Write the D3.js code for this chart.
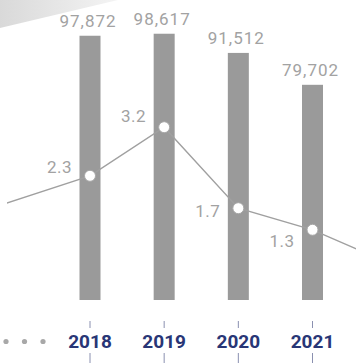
<!DOCTYPE html>
<html>
<head>
<meta charset="utf-8">
<script src="https://cdn.jsdelivr.net/npm/d3@7"></script>
<style>
  html, body { margin: 0; padding: 0; background: #fff; }
  svg { display: block; }
  text { font-family: Roboto, "Noto Sans", sans-serif; }
</style>
</head>
<body>
<svg id="chart" width="356" height="363"></svg>
<script>
// Annual totals (bars) and rate (line)
const years = [2018, 2019, 2020, 2021];
const totals = [97872, 98617, 91512, 79702];
const rates = [2.3, 3.2, 1.7, 1.3];
// Neighbouring years the line runs in from and out to
const leadYears = [2016, 2022];
const leadRates = [1.4, 0.7];
const totalLabels = ["97,872", "98,617", "91,512", "79,702"];
const rateLabels = ["2.3", "3.2", "1.7", "1.3"];

const W = 356, H = 363;
const svg = d3.select("#chart");

const x = d3.scaleLinear().domain([2018, 2021]).range([90, 312.5]);
const yBar = d3.scaleLinear().domain([0, 100000]).range([300, 30]);
const yRate = d3.scaleLinear().domain([0, 5]).range([300, 30]);
const barW = 21;

// Soft grey wedge in the top-left corner
const defs = svg.append("defs");
const grad = defs.append("linearGradient").attr("id", "wedge")
  .attr("x1", "0%").attr("y1", "0%").attr("x2", "100%").attr("y2", "0%");
grad.append("stop").attr("offset", "0%").attr("stop-color", "#d9d9d9");
grad.append("stop").attr("offset", "100%").attr("stop-color", "#f4f4f4");
svg.append("path").attr("d", "M0,0 L118,0 L0,28 Z").attr("fill", "url(#wedge)");

defs.append("clipPath").attr("id", "plotClip")
  .append("rect").attr("x", 7).attr("y", 0).attr("width", W - 7).attr("height", H);

// Bars
svg.append("g").selectAll("rect").data(years).join("rect")
  .attr("x", (d) => x(d) - barW / 2)
  .attr("y", (d, i) => yBar(totals[i]))
  .attr("width", barW)
  .attr("height", (d, i) => yBar(0) - yBar(totals[i]))
  .attr("fill", "#9a9a9a");

// Bar value labels
svg.append("g").selectAll("text").data(years).join("text")
  .attr("x", (d) => x(d) - 2)
  .attr("y", (d, i) => yBar(totals[i]) - 9)
  .attr("text-anchor", "middle")
  .attr("font-size", 17)
  .attr("letter-spacing", 1)
  .attr("fill", "#a2a2a2")
  .text((d, i) => totalLabels[i]);

// Rate line
const linePts = [
  [leadYears[0], leadRates[0]],
  ...years.map((d, i) => [d, rates[i]]),
  [leadYears[1], leadRates[1]]
];
svg.append("path")
  .datum(linePts)
  .attr("clip-path", "url(#plotClip)")
  .attr("fill", "none")
  .attr("stroke", "#a0a0a0")
  .attr("stroke-width", 1.4)
  .attr("d", d3.line().x((d) => x(d[0])).y((d) => yRate(d[1])));

svg.append("g").selectAll("circle").data(years).join("circle")
  .attr("cx", (d) => x(d))
  .attr("cy", (d, i) => yRate(rates[i]))
  .attr("r", 5.5)
  .attr("fill", "#fff")
  .attr("stroke", "#a8a8a8")
  .attr("stroke-width", 1);

// Rate labels sit to the left of each point
const rateLabelDy = [-3, -5, 9, 17];
svg.append("g").selectAll("text").data(years).join("text")
  .attr("x", (d) => x(d) - 18)
  .attr("y", (d, i) => yRate(rates[i]) + rateLabelDy[i])
  .attr("text-anchor", "end")
  .attr("font-size", 17)
  .attr("letter-spacing", 0.5)
  .attr("fill", "#a2a2a2")
  .text((d, i) => rateLabels[i]);

// Year axis with ticks above and below the labels
const axis = svg.append("g");
axis.selectAll("line.up").data(years).join("line").attr("class", "up")
  .attr("x1", (d) => x(d)).attr("x2", (d) => x(d))
  .attr("y1", 321).attr("y2", 328)
  .attr("stroke", "#8a90b0").attr("stroke-width", 1);
axis.selectAll("line.down").data(years).join("line").attr("class", "down")
  .attr("x1", (d) => x(d)).attr("x2", (d) => x(d))
  .attr("y1", 353).attr("y2", 363)
  .attr("stroke", "#8a90b0").attr("stroke-width", 1);
axis.selectAll("text").data(years).join("text")
  .attr("x", (d) => x(d))
  .attr("y", 347.5)
  .attr("text-anchor", "middle")
  .attr("font-size", 19)
  .attr("font-weight", 700)
  .attr("fill", "#283676")
  .text((d) => d);

// Ellipsis marking earlier years
svg.append("g").selectAll("circle").data([6, 24.5, 43]).join("circle")
  .attr("cx", (d) => d).attr("cy", 341.5).attr("r", 2.6)
  .attr("fill", "#a8a8a8");
</script>
</body>
</html>
